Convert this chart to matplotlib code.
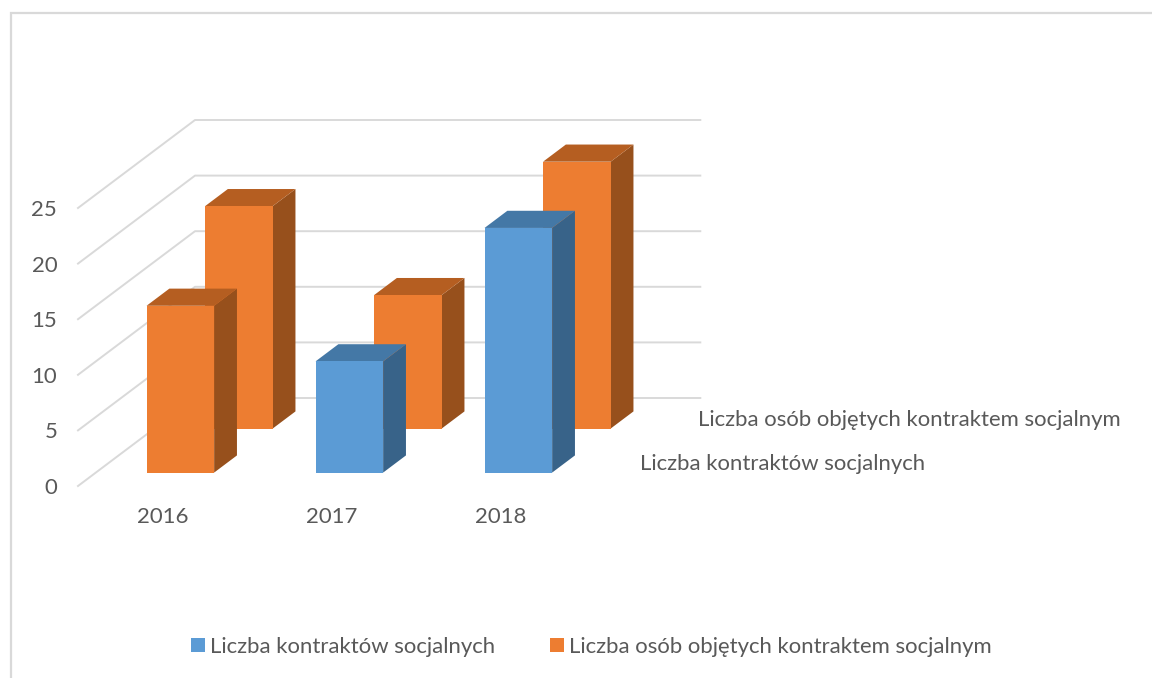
import matplotlib
matplotlib.use('Agg')
import matplotlib.pyplot as plt
from matplotlib.patches import Patch, Rectangle

plt.rcParams['font.family'] = ['Lato', 'DejaVu Sans']

# dane
years = ['2016', '2017', '2018']
kontrakty = [15, 10, 22]
osoby = [20, 12, 24]
y_ticks = [0, 5, 10, 15, 20, 25]
name_kontrakty = 'Liczba kontraktów socjalnych'
name_osoby = 'Liczba osób objętych kontraktem socjalnym'

BLUE = ('#5B9BD5', '#386389', '#4478A6')
ORANGE = ('#ED7D31', '#97501C', '#B55E21')
GRID = '#D9D9D9'
TEXT = '#595959'
FS = 15.95

W, H = 1152, 678
fig = plt.figure(figsize=(W / 100, H / 100), dpi=100)
ax = fig.add_axes([78 / W, 1 - 486 / H, 507 / W, 278 / H])
ax.set_xlim(-0.5, 2.5)
ax.set_ylim(0, 25)

# rzut ukosny: przesuniecie na jeden rzad glebokosci
DX = 58.5 / 169
DY = 44 / (278 / 25)


def proj(x, y, z):
    return x + z * DX, y + z * DY


def face(points, color):
    xs, ys = zip(*[proj(*p) for p in points])
    ax.fill(xs, ys, color=color, lw=0, clip_on=False, zorder=3)


def bar3d(i, value, row, colors):
    x0, x1 = i - 0.2, i + 0.2
    z0, z1 = row + 0.305, row + 0.695
    face([(x1, 0, z0), (x1, 0, z1), (x1, value, z1), (x1, value, z0)], colors[1])
    face([(x0, value, z0), (x1, value, z0), (x1, value, z1), (x0, value, z1)], colors[2])
    face([(x0, 0, z0), (x1, 0, z0), (x1, value, z0), (x0, value, z0)], colors[0])


# siatka: sciana boczna i tylna
for v in y_ticks:
    xs, ys = zip(proj(-0.5, v, 0), proj(-0.5, v, 2), proj(2.49, v, 2))
    ax.plot(xs, ys, color=GRID, lw=1.4, clip_on=False, zorder=1)

for i, v in enumerate(osoby):
    bar3d(i, v, 1, ORANGE)
for i, v in enumerate(kontrakty):
    # pierwszy slupek w oryginale jest pomaranczowy
    bar3d(i, v, 0, ORANGE if i == 0 else BLUE)

ax.set_xticks(range(len(years)), years)
ax.set_yticks(y_ticks)
ax.tick_params(axis='x', length=0, pad=15, labelsize=FS, labelcolor=TEXT)
ax.tick_params(axis='y', length=0, pad=15, labelsize=FS, labelcolor=TEXT)
for s in ax.spines.values():
    s.set_visible(False)
ax.patch.set_visible(False)

# opisy osi glebokosci
for row, name in enumerate([name_kontrakty, name_osoby]):
    ax.annotate(name, proj(2.5, 0, row + 0.5), xytext=(18.5, 0), textcoords='offset points',
                ha='left', va='center', fontsize=FS, color=TEXT, annotation_clip=False)

handles = [Patch(color=BLUE[0], lw=0), Patch(color=ORANGE[0], lw=0)]
fig.legend(handles, [name_kontrakty, name_osoby], loc='center', ncol=2,
           bbox_to_anchor=(591.5 / W, 1 - 647 / H), frameon=False, fontsize=FS,
           labelcolor=TEXT, handlelength=0.63, handleheight=0.63, handletextpad=0.25,
           columnspacing=2.45)

# ramka wykresu
fig.add_artist(Rectangle((11 / W, -0.05), 1.2, 1 - 13 / H + 0.05, transform=fig.transFigure,
                         fill=False, ec=GRID, lw=1.6))

fig.savefig('out.png', dpi=100)
